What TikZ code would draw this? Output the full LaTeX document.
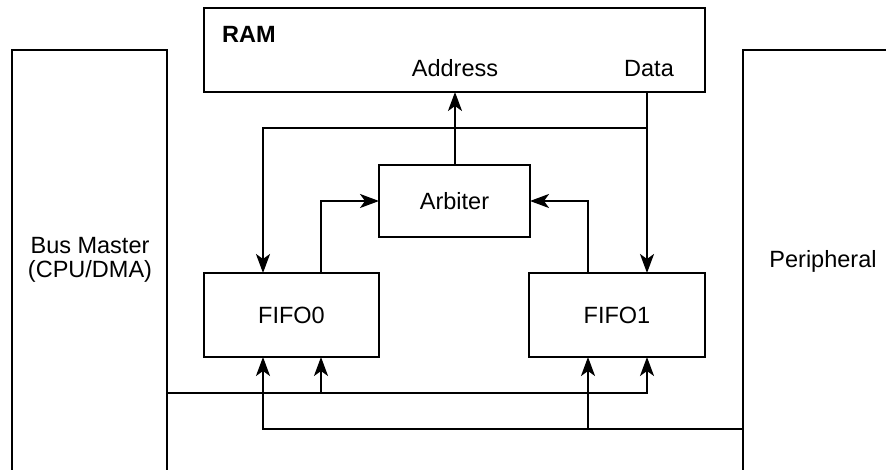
\documentclass[tikz,border=0pt]{standalone}
\usepackage{fontspec}
\setmainfont{Liberation Sans}
\usetikzlibrary{arrows.meta}
\begin{document}
\begin{tikzpicture}[x=1bp,y=-1bp,
  box/.style={draw, line width=2bp, inner sep=0pt, outer sep=0pt, rectangle},
  lbl/.style={inner sep=0pt, font=\fontsize{23.5bp}{24bp}\selectfont},
  arr/.style={draw, line width=2bp, -{Stealth[length=19bp,width=14bp,inset=5bp]}}]
\useasboundingbox (0,0) rectangle (886,470);
\clip (0,0) rectangle (886,470);
% columns and rows
\coordinate (cA) at (263,0);
\coordinate (cB) at (321,0);
\coordinate (cM) at (455,0);
\coordinate (cC) at (588,0);
\coordinate (cD) at (647,0);
\coordinate (rBr) at (0,128);
\coordinate (rBus) at (0,393);
\coordinate (rPer) at (0,429);
% boxes
\node[box, minimum width=501bp, minimum height=84bp] (ram) at (454.5,50) {};
\node[box, minimum width=151bp, minimum height=72bp, lbl] (arb) at (454.5,201) {Arbiter};
\node[box, minimum width=175bp, minimum height=84bp, lbl] (fifo0) at (291.5,315) {FIFO0};
\node[box, minimum width=176bp, minimum height=84bp, lbl] (fifo1) at (617,315) {FIFO1};
\node[box, minimum width=155bp, minimum height=500bp] (bus) at (89.5,300) {};
\node[box, minimum width=160bp, minimum height=500bp] (per) at (823,300) {};
% labels
\node[lbl, anchor=base west, font=\fontsize{23.5bp}{24bp}\selectfont\bfseries] (ramlbl) at (222,43) {RAM};
\node[lbl, anchor=base] (addrlbl) at (455,77) {Address};
\node[lbl, anchor=base] (datalbl) at (649,77) {Data};
\node[lbl, align=center] (buslbl) at (90,260) {Bus Master\\(CPU/DMA)};
\node[lbl, anchor=base] (perlbl) at (823,268) {Peripheral};
% connectors
\path[arr] (cM |- arb.north) -- (cM |- ram.south);
\path[arr] (cD |- ram.south) -- (cD |- fifo1.north);
\path[arr] (cD |- rBr) -| (cA |- fifo0.north);
\path[arr] (cB |- fifo0.north) |- (arb.west);
\path[arr] (cC |- fifo1.north) |- (arb.east);
\path[arr] (bus.east |- rBus) -| (cD |- fifo1.south);
\path[arr] (cB |- rBus) -- (cB |- fifo0.south);
\path[arr] (per.west |- rPer) -| (cA |- fifo0.south);
\path[arr] (cC |- rPer) -- (cC |- fifo1.south);
\end{tikzpicture}
\end{document}
